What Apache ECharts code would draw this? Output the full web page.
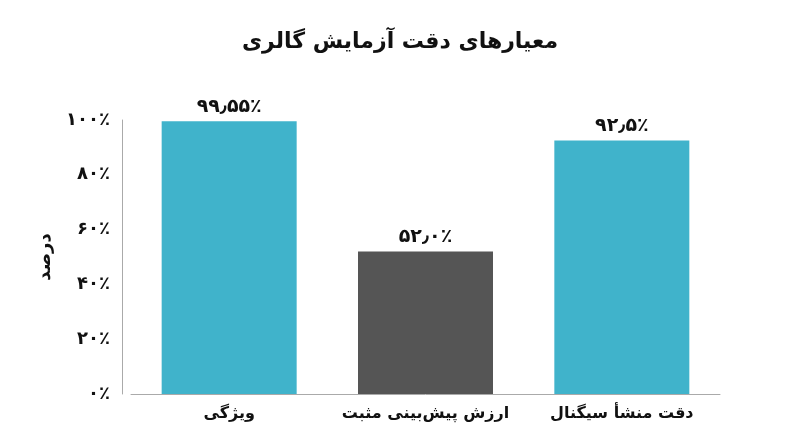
<!DOCTYPE html>
<html>
<head>
<meta charset="utf-8">
<script src="https://cdn.jsdelivr.net/npm/echarts@6/dist/echarts.min.js"></script>
<style>
  html, body { margin: 0; padding: 0; background: #fff; }
  #main { width: 800px; height: 447px; }
</style>
</head>
<body>
<div id="main"></div>
<script>
// داده‌ها
const categories = ['ویژگی', 'ارزش پیش‌بینی مثبت', 'دقت منشأ سیگنال']
const values = [99.55, 52.0, 92.5]
const valueLabels = ['۹۹٫۵۵٪', '۵۲٫۰٪', '۹۲٫۵٪']
const barColors = ['#40B3CB', '#555555', '#40B3CB']
const tickLabels = { 0: '۰٪', 20: '۲۰٪', 40: '۴۰٪', 60: '۶۰٪', 80: '۸۰٪', 100: '۱۰۰٪' }

const font = 'DejaVu Sans'
var myChart = echarts.init(document.getElementById('main'))

var option = {
    animation: false,
    backgroundColor: '#fff',
    title: {
        text: 'معیارهای دقت آزمایش گالری',
        left: 'center',
        top: 26,
        textStyle: { fontFamily: font, fontSize: 22, fontWeight: 'bold', color: '#111' }
    },
    grid: { left: 131, right: 80, top: 120, bottom: 53 },
    xAxis: {
        type: 'category',
        data: categories,
        axisLine: { lineStyle: { color: '#aaa', width: 1 } },
        axisTick: { show: false },
        axisLabel: {
            interval: 0,
            margin: 12,
            fontFamily: font,
            fontSize: 16,
            fontWeight: 'bold',
            color: '#111'
        }
    },
    yAxis: {
        type: 'value',
        min: 0,
        max: 100,
        interval: 20,
        offset: 9,
        name: 'درصد',
        nameLocation: 'middle',
        nameRotate: 90,
        nameGap: 68,
        nameTextStyle: { fontFamily: font, fontSize: 18, fontWeight: 'bold', color: '#111' },
        axisLine: { show: true, lineStyle: { color: '#aaa', width: 1 } },
        axisTick: { show: false },
        splitLine: { show: false },
        axisLabel: {
            margin: 12,
            fontFamily: font,
            fontSize: 18,
            fontWeight: 'bold',
            color: '#111',
            formatter: v => tickLabels[v]
        }
    },
    series: [
        {
            type: 'bar',
            barWidth: 135,
            data: values.map((v, i) => ({ value: v, itemStyle: { color: barColors[i] } })),
            label: {
                show: true,
                position: 'top',
                distance: 5,
                fontFamily: font,
                fontSize: 19,
                fontWeight: 'bold',
                color: '#111',
                formatter: p => valueLabels[p.dataIndex]
            }
        }
    ]
}

myChart.setOption(option)
</script>
</body>
</html>
